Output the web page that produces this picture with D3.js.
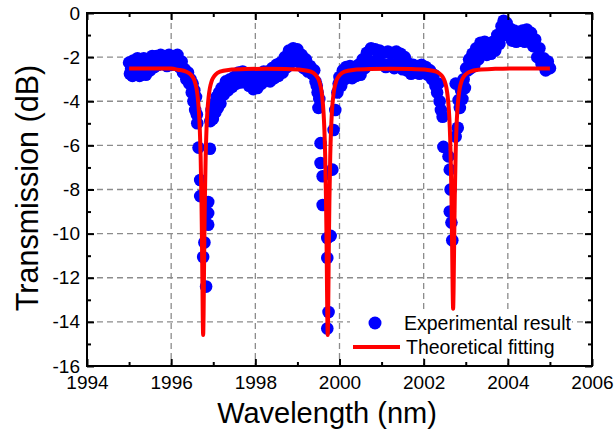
<!DOCTYPE html>
<html><head><meta charset="utf-8">
<script src="https://cdn.jsdelivr.net/npm/d3@7"></script>
<style>
body{margin:0;background:#fff}
text{font-family:"Liberation Sans",Arial,sans-serif;fill:#000}
</style>
</head><body>
<svg id="c" width="615" height="429"></svg>
<script>
const xMajorTicks = [1994,1996,1998,2000,2002,2004,2006];
const xMinorTicks = [1995,1997,1999,2001,2003,2005];
const yMajorTicks = [0,-2,-4,-6,-8,-10,-12,-14,-16];
const yMinorTicks = [-1,-3,-5,-7,-9,-11,-13,-15];
const legendLabels = ["Experimental result","Theoretical fitting"];
const axisTitles = {x:"Wavelength (nm)", y:"Transmission (dB)"};

// Experimental result: [wavelength nm, transmission dB]
const experimental = [
[1995.00,-2.25],[1995.02,-2.75],[1995.05,-2.50],[1995.08,-2.85],[1995.10,-2.15],[1995.15,-2.70],
[1995.20,-2.05],[1995.25,-2.85],[1995.30,-2.40],[1995.35,-2.05],[1995.40,-2.80],[1995.45,-2.10],
[1995.50,-2.60],[1995.55,-1.95],[1995.60,-2.45],[1995.65,-1.95],[1995.70,-2.35],[1995.75,-1.90],
[1995.80,-2.30],[1995.85,-1.95],[1995.90,-2.40],[1995.95,-1.90],[1996.00,-2.35],[1996.05,-1.95],
[1996.10,-2.30],[1996.15,-1.90],[1996.20,-2.45],[1996.25,-2.20],[1996.28,-2.70],[1996.32,-2.55],
[1996.36,-3.00],[1996.40,-2.70],[1996.43,-3.20],[1996.46,-3.00],[1996.49,-3.60],[1996.51,-3.20],
[1996.53,-4.00],[1996.55,-3.50],[1996.57,-4.40],[1996.59,-3.80],[1996.61,-4.60],[1996.62,-5.00],
[1996.65,-6.10],[1996.69,-7.57],[1996.69,-8.30],[1996.76,-11.06],[1996.79,-10.40],[1996.83,-12.40],
[1996.88,-8.57],[1996.88,-9.07],[1996.88,-9.60],[1996.92,-6.15],
[1996.93,-4.90],[1996.96,-4.40],[1996.99,-4.80],[1997.02,-4.10],[1997.05,-4.50],[1997.08,-3.80],
[1997.11,-4.30],[1997.14,-3.60],[1997.17,-4.10],[1997.20,-3.40],[1997.25,-3.70],[1997.30,-3.10],
[1997.35,-3.50],[1997.40,-3.00],[1997.45,-3.35],[1997.50,-2.90],[1997.55,-3.20],[1997.60,-2.70],
[1997.65,-3.15],[1997.70,-2.65],[1997.75,-3.05],[1997.80,-2.75],[1997.85,-3.30],[1997.90,-2.80],
[1997.95,-3.45],[1998.00,-2.90],[1998.05,-3.40],[1998.10,-2.75],[1998.15,-3.20],[1998.20,-2.65],
[1998.25,-3.05],[1998.30,-2.65],[1998.35,-3.10],[1998.40,-2.50],[1998.45,-2.95],[1998.50,-2.35],
[1998.55,-2.85],[1998.60,-2.25],[1998.65,-2.70],[1998.70,-2.00],[1998.75,-2.45],[1998.80,-1.70],
[1998.85,-2.25],[1998.90,-1.60],[1998.95,-2.10],[1999.00,-1.65],[1999.05,-2.25],[1999.10,-1.90],
[1999.15,-2.50],[1999.20,-2.10],[1999.25,-2.65],[1999.30,-2.40],[1999.35,-2.75],[1999.40,-2.60],
[1999.43,-3.10],[1999.46,-3.30],[1999.48,-3.60],[1999.50,-4.30],[1999.52,-3.90],[1999.55,-5.90],
[1999.55,-6.80],[1999.60,-7.40],[1999.60,-8.70],[1999.71,-10.20],[1999.71,-11.10],[1999.74,-13.55],
[1999.71,-14.30],[1999.79,-10.10],[1999.83,-7.10],[1999.86,-5.30],[1999.90,-4.40],[1999.95,-3.60],
[1999.98,-3.20],[2000.00,-2.90],[2000.04,-3.30],[2000.08,-2.60],[2000.12,-3.00],[2000.16,-2.45],
[2000.20,-2.90],[2000.25,-2.40],[2000.30,-2.95],[2000.35,-2.45],[2000.40,-2.85],[2000.45,-2.35],
[2000.50,-2.80],[2000.55,-2.10],[2000.60,-2.50],[2000.65,-1.80],[2000.70,-2.30],[2000.75,-1.60],
[2000.80,-2.20],[2000.85,-1.65],[2000.90,-2.10],[2000.95,-1.70],[2001.00,-2.30],[2001.05,-1.80],
[2001.10,-2.45],[2001.15,-1.75],[2001.20,-2.30],[2001.25,-1.80],[2001.30,-2.50],[2001.35,-1.75],
[2001.40,-2.20],[2001.45,-1.85],[2001.50,-2.55],[2001.55,-2.00],[2001.60,-2.60],[2001.65,-2.30],
[2001.70,-2.75],[2001.75,-2.35],[2001.80,-2.70],[2001.85,-2.40],[2001.90,-2.75],[2001.95,-2.35],
[2002.00,-2.70],[2002.05,-2.45],[2002.10,-2.80],[2002.15,-2.60],[2002.20,-3.00],[2002.24,-2.80],
[2002.28,-3.30],[2002.32,-3.60],[2002.35,-3.20],[2002.38,-4.00],[2002.41,-4.40],[2002.45,-4.70],
[2002.47,-6.07],[2002.59,-6.50],[2002.62,-7.10],[2002.64,-8.00],[2002.62,-9.00],[2002.66,-9.50],
[2002.68,-10.30],
[2002.76,-5.60],[2002.81,-5.20],[2002.83,-3.95],[2002.76,-3.20],[2002.86,-4.30],[2002.89,-3.50],
[2002.92,-3.90],[2002.95,-3.00],[2002.98,-3.40],[2003.01,-2.50],[2003.05,-2.60],[2003.08,-2.10],
[2003.12,-2.50],[2003.16,-1.85],[2003.20,-2.40],[2003.25,-1.60],[2003.30,-2.10],[2003.35,-1.35],
[2003.40,-1.85],[2003.45,-1.30],[2003.50,-1.90],[2003.55,-1.40],[2003.60,-1.85],[2003.65,-1.30],
[2003.70,-1.70],[2003.75,-1.00],[2003.80,-1.40],[2003.85,-0.60],[2003.90,-0.35],[2003.93,-1.00],
[2003.97,-0.45],[2004.00,-0.85],[2004.05,-0.70],[2004.10,-1.25],[2004.15,-0.80],[2004.20,-1.30],
[2004.25,-0.85],[2004.30,-1.25],[2004.35,-0.80],[2004.40,-1.30],[2004.45,-0.75],[2004.50,-1.10],
[2004.55,-0.90],[2004.60,-1.50],[2004.65,-1.20],[2004.70,-2.00],[2004.75,-1.60],[2004.80,-2.30],
[2004.85,-2.05],[2004.90,-2.60],[2004.95,-2.20],[2005.00,-2.50]
];

// Theoretical fitting: [wavelength nm, transmission dB]
const fitting = [
[1995.00,-2.51],[1995.50,-2.51],[1996.00,-2.52],[1996.16,-2.57],[1996.36,-2.66],[1996.46,-2.78],
[1996.51,-2.90],[1996.56,-3.10],[1996.60,-3.40],[1996.63,-3.80],[1996.66,-4.48],[1996.68,-5.25],
[1996.70,-6.48],[1996.72,-8.53],[1996.73,-10.0],[1996.74,-11.8],[1996.75,-13.7],[1996.76,-14.6],
[1996.77,-13.7],[1996.78,-11.8],[1996.79,-10.0],[1996.80,-8.53],[1996.82,-6.48],[1996.84,-5.25],
[1996.86,-4.48],[1996.89,-3.80],[1996.92,-3.40],[1996.96,-3.10],[1997.01,-2.90],[1997.06,-2.78],
[1997.16,-2.66],[1997.36,-2.58],[1997.76,-2.54],[1998.24,-2.53],[1998.72,-2.54],[1999.12,-2.58],
[1999.32,-2.66],[1999.42,-2.78],[1999.47,-2.90],[1999.52,-3.10],[1999.56,-3.40],[1999.59,-3.80],
[1999.62,-4.48],[1999.64,-5.25],[1999.66,-6.48],[1999.68,-8.53],[1999.69,-10.0],[1999.70,-11.8],
[1999.71,-13.7],[1999.72,-14.6],[1999.73,-13.7],[1999.74,-11.8],[1999.75,-10.0],[1999.76,-8.53],
[1999.78,-6.48],[1999.80,-5.25],[1999.82,-4.48],[1999.85,-3.80],[1999.88,-3.40],[1999.92,-3.10],
[1999.97,-2.90],[2000.02,-2.78],[2000.12,-2.66],[2000.32,-2.58],[2000.72,-2.54],[2001.21,-2.53],
[2001.70,-2.54],[2002.10,-2.58],[2002.30,-2.66],[2002.40,-2.78],[2002.45,-2.89],[2002.50,-3.09],
[2002.54,-3.38],[2002.57,-3.77],[2002.60,-4.43],[2002.62,-5.17],[2002.64,-6.35],[2002.66,-8.26],
[2002.67,-9.60],[2002.68,-11.17],[2002.69,-12.68],[2002.70,-13.4],[2002.71,-12.68],[2002.72,-11.17],
[2002.73,-9.60],[2002.74,-8.26],[2002.76,-6.35],[2002.78,-5.17],[2002.80,-4.43],[2002.83,-3.77],
[2002.86,-3.38],[2002.90,-3.09],[2002.95,-2.89],[2003.00,-2.78],[2003.10,-2.66],[2003.30,-2.57],
[2003.70,-2.53],[2004.20,-2.51],[2005.00,-2.51]
];

const svg = d3.select("#c");
const L=87, R=592, T=13, B=366;
const x = d3.scaleLinear().domain([1994,2006]).range([L,R]);
const y = d3.scaleLinear().domain([-16,0]).range([B,T]);

svg.append("rect").attr("width",615).attr("height",429).attr("fill","#fff");

// grid
const grid = svg.append("g").attr("stroke","#8c8c8c").attr("stroke-width",1.3).attr("stroke-dasharray","6,4");
grid.selectAll("line.v").data(xMajorTicks.filter(d=>d>1994&&d<2006)).join("line").attr("class","v")
  .attr("x1",d=>x(d)).attr("x2",d=>x(d)).attr("y1",T).attr("y2",B);
grid.selectAll("line.h").data(yMajorTicks.filter(d=>d<0&&d>-16)).join("line").attr("class","h")
  .attr("y1",d=>y(d)).attr("y2",d=>y(d)).attr("x1",L).attr("x2",R);

// legend background layer (covers grid only)
const lg = svg.append("g");

// scatter
svg.append("g").selectAll("circle").data(experimental).join("circle")
  .attr("cx",d=>x(d[0])).attr("cy",d=>y(d[1])).attr("r",6.3).attr("fill","#0000ff");

// fit line
svg.append("path").datum(fitting)
  .attr("d",d3.line().x(d=>x(d[0])).y(d=>y(d[1])).curve(d3.curveMonotoneX))
  .attr("fill","none").attr("stroke","#ff0000").attr("stroke-width",4).attr("stroke-linejoin","round");

// axes
function styleAxis(g){ g.select(".domain").remove(); g.selectAll("line").attr("stroke","#000").attr("stroke-width",2); g.selectAll("text").attr("font-size",19).attr("fill","#000").style("font-family",'"Liberation Sans",Arial,sans-serif'); }
svg.append("g").attr("transform",`translate(0,${B})`)
  .call(d3.axisBottom(x).tickValues(xMajorTicks).tickFormat(d3.format("d")).tickSizeInner(-7).tickSizeOuter(0).tickPadding(10)).call(styleAxis);
svg.append("g").attr("transform",`translate(0,${B})`)
  .call(d3.axisBottom(x).tickValues(xMinorTicks).tickFormat("").tickSizeInner(-4).tickSizeOuter(0)).call(styleAxis);
svg.append("g").attr("transform",`translate(0,${T})`)
  .call(d3.axisTop(x).tickValues(xMajorTicks).tickFormat("").tickSizeInner(-7).tickSizeOuter(0)).call(styleAxis);
svg.append("g").attr("transform",`translate(0,${T})`)
  .call(d3.axisTop(x).tickValues(xMinorTicks).tickFormat("").tickSizeInner(-4).tickSizeOuter(0)).call(styleAxis);
svg.append("g").attr("transform",`translate(${L},0)`)
  .call(d3.axisLeft(y).tickValues(yMajorTicks).tickFormat(d3.format("d")).tickSizeInner(-7).tickSizeOuter(0).tickPadding(7)).call(styleAxis);
svg.append("g").attr("transform",`translate(${L},0)`)
  .call(d3.axisLeft(y).tickValues(yMinorTicks).tickFormat("").tickSizeInner(-4).tickSizeOuter(0)).call(styleAxis);
svg.append("g").attr("transform",`translate(${R},0)`)
  .call(d3.axisRight(y).tickValues(yMajorTicks).tickFormat("").tickSizeInner(-7).tickSizeOuter(0)).call(styleAxis);
svg.append("g").attr("transform",`translate(${R},0)`)
  .call(d3.axisRight(y).tickValues(yMinorTicks).tickFormat("").tickSizeInner(-4).tickSizeOuter(0)).call(styleAxis);
svg.selectAll("text").each(function(){ const t=d3.select(this); t.text(t.text().replace("\u2212","-")); });

svg.append("rect").attr("x",L).attr("y",T).attr("width",R-L).attr("height",B-T)
  .attr("fill","none").attr("stroke","#000").attr("stroke-width",2);

// titles
svg.append("text").attr("x",327).attr("y",423).attr("text-anchor","middle").attr("font-size",29).text(axisTitles.x);
svg.append("text").attr("transform","translate(38,188) rotate(-90)").attr("text-anchor","middle").attr("font-size",30.5).text(axisTitles.y);

// legend
lg.append("rect").attr("x",350).attr("y",311).attr("width",222).attr("height",47).attr("fill","#fff");
const leg = svg.append("g");
leg.append("circle").attr("cx",375).attr("cy",323).attr("r",6.5).attr("fill","#0000ff");
leg.append("text").attr("x",404).attr("y",329.5).attr("font-size",19.5).text(legendLabels[0]);
leg.append("line").attr("x1",353).attr("x2",400).attr("y1",347).attr("y2",347).attr("stroke","#ff0000").attr("stroke-width",4);
leg.append("text").attr("x",406).attr("y",353.5).attr("font-size",19.5).text(legendLabels[1]);
</script>
</body></html>
